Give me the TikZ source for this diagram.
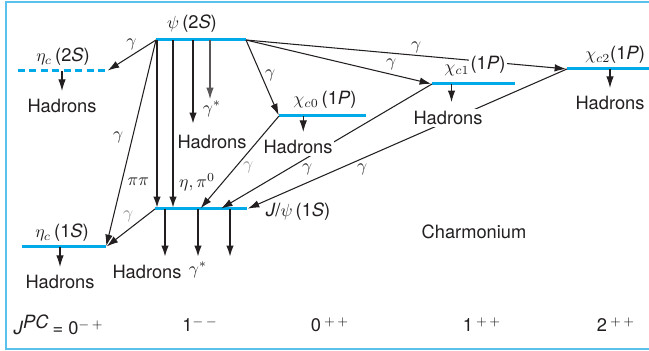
\documentclass[tikz,border=0pt]{standalone}
\usepackage{fontspec}
\setmainfont{TeX Gyre Heros}
\usepackage{tikz}
\usetikzlibrary{arrows.meta,calc}
\definecolor{LvlC}{RGB}{0,170,232}
\definecolor{FrmC}{RGB}{90,192,236}
\definecolor{TxtC}{RGB}{35,31,32}
\tikzset{
  level/.style={line width=1.7pt,LvlC},
  lvldash/.style={level,dash pattern=on 4pt off 2.5pt},
  frm/.style={line width=0.8pt,FrmC},
  trans/.style={-{Latex[length=2.3mm,width=1.5mm]},line width=0.6pt,TxtC,shorten >=0.5pt},
  strong/.style={trans,line width=1.1pt},
  faint/.style={trans,TxtC!75},
  lab/.style={font=\fontsize{10.4}{12}\selectfont,text=TxtC,inner sep=1pt},
  glab/.style={lab,text=black!45},
  hadr/.style={lab,fill=white},
}
\begin{document}
\begin{tikzpicture}
  \useasboundingbox (0,0) rectangle (12.98,7.02);
  \draw[frm] (12.98,6.98) -- (0.12,6.98) -- (0.12,0.04) -- (12.98,0.04);
  \coordinate (psiL) at (3.12,6.22);  \coordinate (psiR) at (4.92,6.22);
  \coordinate (eta2L) at (0.36,5.60); \coordinate (eta2R) at (2.14,5.60);
  \coordinate (chi0L) at (5.58,4.70); \coordinate (chi0R) at (7.32,4.70);
  \coordinate (chi1L) at (8.64,5.34); \coordinate (chi1R) at (10.30,5.34);
  \coordinate (chi2L) at (11.34,5.64); \coordinate (chi2R) at (12.98,5.64);
  \coordinate (jpsiL) at (3.10,2.84); \coordinate (jpsiR) at (4.94,2.84);
  \coordinate (eta1L) at (0.44,2.08); \coordinate (eta1R) at (2.12,2.08);
  \draw[level] (psiL) -- (psiR);
  \draw[lvldash] (eta2L) -- (eta2R);
  \draw[level] (chi0L) -- (chi0R);
  \draw[level] (chi1L) -- (chi1R);
  \draw[level] (chi2L) -- (chi2R);
  \draw[level] (jpsiL) -- (jpsiR);
  \draw[level] (eta1L) -- (eta1R);
  \coordinate (jA) at ($(jpsiL)!0.49!(jpsiR)$);
  \coordinate (jB) at ($(jpsiL)!0.71!(jpsiR)$);
  \coordinate (pa) at (3.14,6.22); \coordinate (pb) at (3.46,6.22);
  \coordinate (pc) at (3.86,6.22); \coordinate (pd) at (4.20,6.22);
  \coordinate (pcE) at (3.86,4.52); \coordinate (pdE) at (4.20,5.02);
  \coordinate (jd1) at (3.30,1.86); \coordinate (jd2) at (3.96,1.86);
  \coordinate (jd3) at (4.60,1.86);
  \draw[trans] (psiL) -- node[lab,midway,above=2pt]{$\gamma$} (eta2R);
  \draw[trans] (psiL) -- node[lab,pos=0.47,left=4pt]{$\gamma$} (eta1R);
  \draw[trans] (psiR) -- node[lab,pos=0.46,right=1pt]{$\gamma$} (chi0L);
  \draw[trans] (psiR) -- node[lab,pos=0.78,above=1pt]{$\gamma$} (chi1L);
  \draw[trans] (psiR) -- node[lab,pos=0.53,above]{$\gamma$} (chi2L);
  \draw[strong] (pa) -- node[lab,pos=0.84,left=3pt]{$\pi\pi$} (pa |- jpsiL);
  \draw[strong] (pb) -- node[lab,pos=0.84,right=2pt]{$\eta,\pi^0$} (pb |- jpsiL);
  \draw[strong] (pc) -- (pcE);
  \draw[faint] (pd) -- (pdE);
  \draw[trans] (chi0L) -- node[glab,pos=0.55,right=3pt]{$\gamma$} (jA);
  \draw[trans] (chi1L) -- node[lab,pos=0.59,below=2pt]{$\gamma$} (jB);
  \draw[trans] (chi2L) -- node[lab,pos=0.64,below=2pt]{$\gamma$} (jpsiR);
  \draw[trans] (jpsiL) -- node[glab,pos=0.55,above=3pt]{$\gamma$} (eta1R);
  \draw[strong] (jd1 |- jpsiL) -- (jd1);
  \draw[strong] (jd2 |- jpsiL) -- (jd2);
  \draw[strong] (jd3 |- jpsiL) -- (jd3);
  \node[lab] (psiT) at (3.84,6.54) {$\psi$\,(2\textit{S})};
  \node[lab] (eta2T) at (1.26,5.88) {$\eta_c$\,(2\textit{S})};
  \node[lab] (chi0T) at (6.50,5.02) {$\chi_{c0}$\,(1\textit{P})};
  \node[lab] (chi1T) at (9.14,5.62) {$\chi_{c1}$};
  \node[hadr] (chi1P) at (9.76,5.72) {(1\textit{P})};
  \node[lab] (chi2T) at (12.30,5.92) {$\chi_{c2}$(1\textit{P})};
  \node[lab] (jpsiT) at (5.96,2.78) {\textit{J}/$\psi$\,(1\textit{S})};
  \node[lab] (eta1T) at (1.24,2.36) {$\eta_c$\,(1\textit{S})};
  \node[lab] (gstar) at (4.24,4.84) {$\gamma^*$};
  \node[lab] (hPsi) at (4.24,4.18) {Hadrons};
  \node[hadr] (hE2) at (1.24,4.90) {Hadrons};
  \node[hadr] (hC0) at (5.96,4.08) {Hadrons};
  \node[hadr] (hC1) at (8.96,4.66) {Hadrons};
  \node[hadr] (hC2) at (12.20,4.96) {Hadrons};
  \node[lab] (hE1) at (1.20,1.38) {Hadrons};
  \node[lab] (hJ) at (2.94,1.58) {Hadrons};
  \node[lab] (gJ) at (3.96,1.62) {$\gamma^*$};
  \draw[trans,shorten >=3.5pt] (hE2.north |- eta2L) -- (hE2.north);
  \draw[trans,shorten >=3.5pt] ([xshift=3pt]hC0.north |- chi0L) -- ([xshift=3pt]hC0.north);
  \draw[trans,shorten >=4pt] ([xshift=2pt]hC1.north |- chi1L) -- ([xshift=2pt]hC1.north);
  \draw[trans,shorten >=3.5pt] (hC2.north |- chi2L) -- (hC2.north);
  \draw[trans,shorten >=3.5pt] (hE1.north |- eta1L) -- (hE1.north);
  \node[lab] (charm) at (9.48,2.38) {Charmonium};
  \node[lab] (jpc0) at (1.17,0.52) {\textit{J}$^{\textit{PC}}$\,= 0$^{-\,+}$};
  \node[lab] (jpc1) at (4.00,0.52) {1$^{-\,-}$};
  \node[lab] (jpc2) at (6.60,0.52) {0\,$^{+\,+}$};
  \node[lab] (jpc3) at (9.64,0.52) {1\,$^{+\,+}$};
  \node[lab] (jpc4) at (12.32,0.52) {2\,$^{+\,+}$};
\end{tikzpicture}
\end{document}
